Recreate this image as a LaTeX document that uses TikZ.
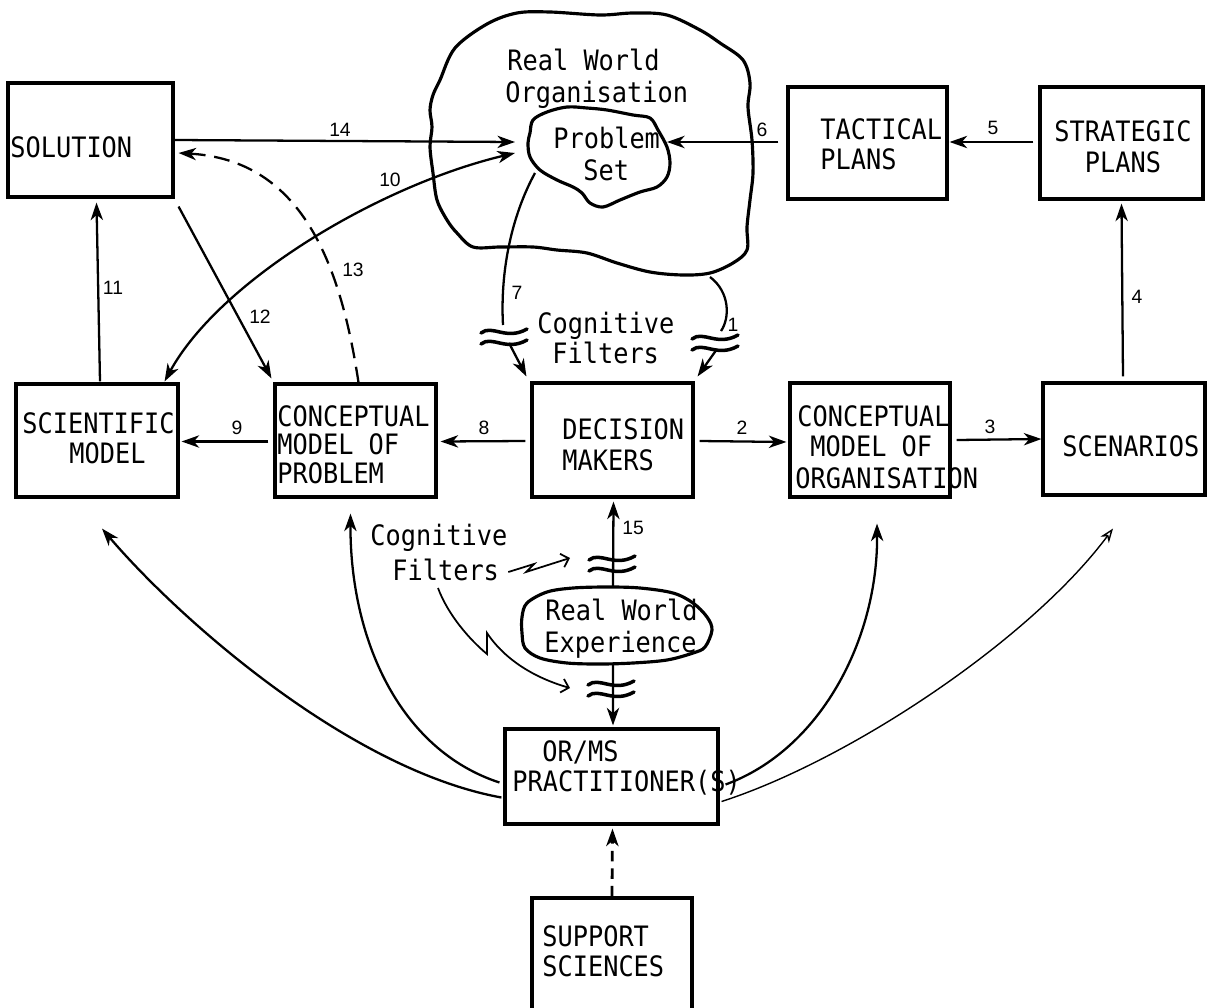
\documentclass[tikz,border=0pt]{standalone}
\usepackage{fontspec}
\usetikzlibrary{arrows.meta}
\newfontfamily\boxfont[FakeStretch=0.9]{DejaVu Sans Mono}
\newfontfamily\numfont{Liberation Sans}
\begin{document}
\begin{tikzpicture}[x=0.02cm,y=-0.02cm,
  box/.style={draw, line width=1.8pt, inner sep=0pt},
  txt/.style={inner sep=0pt, anchor=base west, font=\boxfont\fontsize{16}{16}\selectfont},
  ctxt/.style={txt, anchor=base},
  num/.style={inner sep=0pt, font=\numfont\fontsize{11}{12}\selectfont},
  link/.style={line width=1.3pt},
  arr/.style={link, -{Stealth[length=10pt,width=7pt,inset=3pt]}},
  darr/.style={link, {Stealth[length=10pt,width=7pt,inset=3pt]}-{Stealth[length=10pt,width=7pt,inset=3pt]}},
  larr/.style={line width=0.8pt, -{Stealth[length=8pt,width=6pt,inset=2.5pt,open]}},
  barb/.style={line width=1pt, -{Straight Barb[length=4pt,width=8pt]}},
  blob/.style={line width=1.8pt, line join=round},
  filt/.pic={
    \draw[line width=2pt, line cap=round] (-23,-3) .. controls (-12,-12) and (2,5) .. (23,-7);
    \draw[line width=2pt, line cap=round] (-23,8) .. controls (-12,-1) and (2,16) .. (23,4);
  }
]
\path[use as bounding box, clip] (0,0) rectangle (1208,1008);
\fill[white] (0,0) rectangle (1208,1008);

% ---- boxes ----
\node[box, minimum width=3.30cm, minimum height=2.28cm] (sol)   at (90.5,140) {};
\node[box, minimum width=3.18cm, minimum height=2.24cm] (tact)  at (867.5,143) {};
\node[box, minimum width=3.26cm, minimum height=2.24cm] (strat) at (1121.5,143) {};
\node[box, minimum width=3.24cm, minimum height=2.26cm] (sci)   at (97,440.5) {};
\node[box, minimum width=3.22cm, minimum height=2.26cm] (cprob) at (355.5,440.5) {};
\node[box, minimum width=3.22cm, minimum height=2.28cm] (dm)    at (612.5,440) {};
\node[box, minimum width=3.20cm, minimum height=2.28cm] (corg)  at (870,440) {};
\node[box, minimum width=3.24cm, minimum height=2.24cm] (scen)  at (1124,439) {};
\node[box, minimum width=4.26cm, minimum height=1.90cm] (orms)  at (611.5,776.5) {};
\node[box, minimum width=3.20cm, minimum height=2.44cm] (supp)  at (612,959) {};

% ---- box texts ----
\node[txt] (solT) at (10,157) {SOLUTION};
\node[txt] (tactA) at (820,139) {TACTICAL};
\node[txt] (tactB) at (820,169) {PLANS};
\node[ctxt] (stratA) at (1123,141) {STRATEGIC};
\node[ctxt] (stratB) at (1123,172) {PLANS};
\node[txt] (sciA) at (22,433) {SCIENTIFIC};
\node[txt] (sciB) at (69,463) {MODEL};
\node[txt] (cprobA) at (277,426) {CONCEPTUAL};
\node[txt] (cprobB) at (277,454) {MODEL OF};
\node[txt] (cprobC) at (277,483) {PROBLEM};
\node[txt] (dmA) at (562,439) {DECISION};
\node[txt] (dmB) at (562,470) {MAKERS};
\node[txt] (corgA) at (797,426) {CONCEPTUAL};
\node[txt] (corgB) at (810,456) {MODEL OF};
\node[txt] (corgC) at (795,488) {ORGANISATION};
\node[txt] (scenT) at (1062,456) {SCENARIOS};
\node[txt] (ormsA) at (542,761) {OR/MS};
\node[txt] (ormsB) at (512,791) {PRACTITIONER(S)};
\node[txt] (suppA) at (542,946) {SUPPORT};
\node[txt] (suppB) at (542,976) {SCIENCES};

% ---- real world organisation with its problem set ----
\draw[blob] plot[smooth cycle, tension=0.55] coordinates {
  (440,80) (455,48) (487,24) (517,13) (550,12) (600,15) (633,13) (667,15)
  (700,30) (720,43) (743,60) (750,83) (748,107) (752,140) (753,173) (750,200)
  (747,227) (747,250) (733,263) (710,273) (683,275) (650,272) (617,263)
  (587,253) (557,250) (533,247) (500,247) (473,247) (457,233) (447,220)
  (437,200) (433,173) (430,147) (432,127) (430,110) (433,95)};
\node[txt] (rwoA) at (507,70) {Real World};
\node[txt] (rwoB) at (505,102) {Organisation};

\draw[blob] plot[smooth cycle, tension=0.55] coordinates {
  (530,133) (533,120) (547,112) (567,107) (587,108) (607,110) (633,115)
  (650,118) (658,130) (667,147) (670,163) (667,177) (657,187) (640,192)
  (620,200) (603,207) (590,203) (582,193) (573,187) (557,180) (540,170)
  (530,157) (528,143)};
\node[txt] (psA) at (553,148) {Problem};
\node[txt] (psB) at (583,180) {Set};

% ---- real world experience ----
\draw[blob] plot[smooth cycle, tension=0.55] coordinates {
  (527,603) (547,592) (573,588) (607,587) (640,588) (673,593) (693,603)
  (707,617) (712,630) (705,647) (693,653) (667,660) (633,663) (600,664)
  (567,663) (540,658) (525,648) (522,633) (522,617)};
\node[txt] (rweA) at (545,620) {Real World};
\node[txt] (rweB) at (544,652) {Experience};

% ---- attachment points on the clouds ----
\coordinate (psW)  at (515,142);
\coordinate (psW2) at (515,153);
\coordinate (psE)  at (667,142);
\coordinate (psSW) at (535,173);
\coordinate (rwoS) at (710,277);
\coordinate (rweN) at (613,587);
\coordinate (rweS) at (613,664);
\coordinate (f7in)  at (503,325);
\coordinate (f7out) at (509,343);
\coordinate (f1in)  at (721,331);
\coordinate (f1out) at (717,349);

% ---- cognitive filters ----
\node[txt] (cfA) at (537,333) {Cognitive};
\node[txt] (cfB) at (552,363) {Filters};
\node[txt] (cgA) at (370,545) {Cognitive};
\node[txt] (cgB) at (392,580) {Filters};

% ---- connectors ----
\draw[arr] (sol.east) -- (psW);
\node[num] (n14) at (340,130) {14};
\draw[darr] (psW2) .. controls (380,185) and (220,280) .. ([shift={(-15,-1)}]sci.north east);
\node[num] (n10) at (390,180) {10};
\draw[arr, dash pattern=on 9pt off 5pt] ([shift={(3,0)}]cprob.north) .. controls (340,260) and (300,160) .. ([shift={(4,13)}]sol.east);
\node[num] (n13) at (353,270) {13};
\draw[arr] ([shift={(4,8)}]sol.south east) -- ([shift={(-2,-4)}]cprob.north west);
\node[num] (n12) at (260,317) {12};
\draw[arr] ([shift={(3,-1)}]sci.north) -- ([shift={(6,4)}]sol.south);
\node[num] (n11) at (113,288) {11};
\draw[arr] ([shift={(-5,1)}]cprob.west) -- ([shift={(2,1)}]sci.east);
\node[num] (n9) at (237,428) {9};
\draw[arr] ([shift={(-5,1)}]dm.west) -- ([shift={(3,1)}]cprob.east);
\node[num] (n8) at (484,428) {8};
\draw[arr] ([shift={(5,1)}]dm.east) -- ([shift={(-2,2)}]corg.west);
\node[num] (n2) at (742,428) {2};
\draw[arr] ([shift={(5,0)}]corg.east) -- (scen.west);
\node[num] (n3) at (990,427) {3};
\draw[arr] ([shift={(-1,-5)}]scen.north) -- ([shift={(0,3)}]strat.south);
\node[num] (n4) at (1137,297) {4};
\draw[arr] ([shift={(-5,-1)}]strat.west) -- ([shift={(1,-1)}]tact.east);
\node[num] (n5) at (993,128) {5};
\draw[arr] ([shift={(-8,-1)}]tact.west) -- (psE);
\node[num] (n6) at (762,130) {6};

% 7 and 1: through the filters down to the decision makers
\draw[link] (psSW) .. controls (512,215) and (500,270) .. (f7in);
\draw[arr] (f7out) -- ([shift={(-4,-5)}]dm.north west);
\pic at (504,336) {filt};
\node[num] (n7) at (517,293) {7};
\draw[link] (rwoS) .. controls (730,292) and (730,318) .. (f1in);
\draw[arr] (f1out) -- ([shift={(3,-5)}]dm.north east);
\pic at (715,342) {filt};
\node[num] (n1) at (733,325) {1};

% 15: experience up to the decision makers, down to the practitioners
\draw[arr] (rweN) -- ([shift={(1,3)}]dm.south);
\pic at (612,563) {filt};
\node[num] (n15) at (633,528) {15};
\draw[arr] (rweS) -- ([shift={(1.5,-2)}]orms.north);
\pic at (611,688) {filt};

% pointers from the lower cognitive filters label
\draw[barb] ([shift={(9,-8)}]cgB.base east) -- (534,564) -- (526,572) -- (570,558);
\draw[barb] (438,588) .. controls (448,615) and (470,640) .. (487,654) -- (487,633)
  .. controls (505,660) and (535,678) .. (570,688);

% practitioners out to the models
\draw[arr] ([shift={(-2,21)}]orms.west) .. controls (350,770) and (180,620) .. ([shift={(5,30)}]sci.south);
\draw[arr] ([shift={(-4,6)}]orms.west) .. controls (400,750) and (350,640) .. ([shift={(-5,15)}]cprob.south);
\draw[arr] ([shift={(6,8)}]orms.east) .. controls (820,750) and (878,640) .. ([shift={(7,25)}]corg.south);
\draw[larr] ([shift={(2,25)}]orms.east) .. controls (850,760) and (1030,640) .. ([shift={(-11,32)}]scen.south);

% support sciences feed the practitioners
\draw[arr, line width=1.6pt, dash pattern=on 6pt off 4pt] (supp.north) -- ([shift={(1,3)}]orms.south);
\end{tikzpicture}
\end{document}
